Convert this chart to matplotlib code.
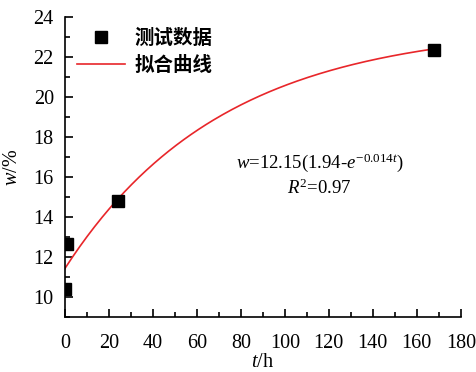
import numpy as np
import matplotlib.pyplot as plt
from matplotlib.ticker import MultipleLocator

# measured data
t_data = [0, 1, 24, 168]
w_data = [10.4, 12.65, 14.8, 22.35]

# fitted curve parameters: w = a(b - e^(-k t))
a, b, k = 12.15, 1.94, 0.014
t_fit = np.linspace(0, 168, 200)
w_fit = a * (b - np.exp(-k * t_fit))

plt.rcParams['font.family'] = ['Liberation Serif', 'Noto Sans CJK SC']
plt.rcParams['mathtext.fontset'] = 'custom'
plt.rcParams['mathtext.rm'] = 'Liberation Serif'
plt.rcParams['mathtext.it'] = 'Liberation Serif:italic'

fig = plt.figure(figsize=(4.77, 3.72), dpi=100)
ax = fig.add_axes([0.136, 0.148, 0.83, 0.806])

ax.plot(t_data, w_data, 's', color='black', markersize=8, label='测试数据', zorder=3)
ax.plot(t_fit, w_fit, '-', color='#e8262a', lw=1.2, label='拟合曲线')

ax.set_xlim(0, 180)
ax.set_ylim(9, 24)
ax.xaxis.set_major_locator(MultipleLocator(20))
ax.xaxis.set_minor_locator(MultipleLocator(10))
ax.yaxis.set_major_locator(MultipleLocator(2))
ax.yaxis.set_minor_locator(MultipleLocator(1))
ax.tick_params(which='both', direction='in', labelsize=14.5, width=1.2)
ax.tick_params(which='major', length=6)
ax.tick_params(which='minor', length=3.5)
ax.tick_params(axis='x', pad=12)
ax.tick_params(axis='y', pad=8)
ax.spines['top'].set_visible(False)
ax.spines['right'].set_visible(False)
ax.spines['left'].set_linewidth(1.2)
ax.spines['bottom'].set_linewidth(1.2)

ax.set_xlabel('$t$/h', fontsize=14.5, labelpad=0)
ax.set_ylabel('$w$/%', fontsize=14.5, labelpad=8)

ax.text(0.644, 0.513, r'$w$=12.15(1.94-$e^{-0.014t}$)', transform=ax.transAxes,
        ha='center', va='center', fontsize=13.5)
ax.text(0.644, 0.43, r'$R^2$=0.97', transform=ax.transAxes,
        ha='center', va='center', fontsize=13.5)

leg = ax.legend(loc='upper left', bbox_to_anchor=(0.0, 1.0), frameon=False,
                prop={'family': 'Noto Sans CJK SC', 'weight': 'bold', 'size': 14},
                handlelength=2.5, handletextpad=0.5, borderaxespad=0.2,
                labelspacing=0.4)

fig.savefig('out.png', dpi=100)
